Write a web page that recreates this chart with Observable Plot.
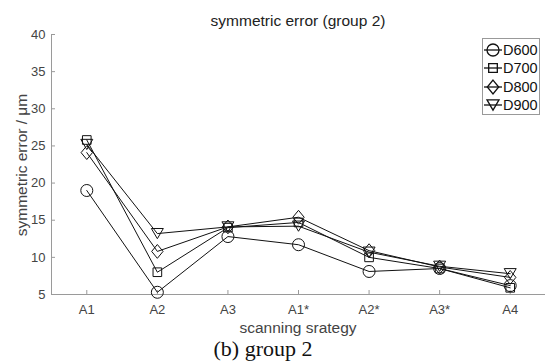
<!DOCTYPE html>
<html>
<head>
<meta charset="utf-8">
<script src="https://cdn.jsdelivr.net/npm/d3@7"></script>
<script src="https://cdn.jsdelivr.net/npm/@observablehq/plot@0.6"></script>
<style>
  html, body { margin: 0; padding: 0; background: #fff; }
  #wrap { position: relative; width: 545px; height: 363px; overflow: hidden; font-family: "Liberation Sans", Arial, sans-serif; }
  .lbl { position: absolute; white-space: nowrap; color: #333; }
  #title { left: 298px; top: 12px; transform: translateX(-50%); font-size: 15.5px; line-height: 18px; color: #222; }
  #xlabel { left: 298px; top: 319px; transform: translateX(-50%); font-size: 15.5px; line-height: 18px; color: #444; }
  #ylabel { left: 22px; top: 165px; transform: translate(-50%, -50%) rotate(-90deg); font-size: 15.5px; line-height: 18px; color: #444; }
  #caption { left: 263px; top: 336px; transform: translateX(-50%); font-family: "Liberation Serif", "Times New Roman", serif; font-size: 22px; line-height: 26px; color: #111; }
  #legend { position: absolute; left: 482px; top: 38px; width: 56px; height: 75px; border: 1px solid #999; background: #fff; font-size: 14.5px; color: #111; }
  .row { position: absolute; left: 0; height: 18px; line-height: 18px; }
  .row svg { position: absolute; left: 0; top: 0; }
  .row span { position: absolute; left: 20px; top: 0; }
</style>
</head>
<body>
<div id="wrap">
  <div id="chart"></div>
  <div class="lbl" id="title">symmetric error (group 2)</div>
  <div class="lbl" id="xlabel">scanning srategy</div>
  <div class="lbl" id="ylabel">symmetric error / μm</div>
  <div class="lbl" id="caption">(b) group 2</div>
  <div id="legend"></div>
</div>
<script>
const categories = ["A1", "A2", "A3", "A1*", "A2*", "A3*", "A4"];
const seriesNames = ["D600", "D700", "D800", "D900"];
const D600 = [19.0, 5.3, 12.8, 11.7, 8.1, 8.5, 6.2];
const D700 = [25.8, 8.0, 14.0, 14.7, 10.0, 8.5, 5.9];
const D800 = [24.1, 10.8, 14.1, 15.4, 10.9, 8.7, 7.3];
const D900 = [25.2, 13.2, 14.1, 14.2, 10.7, 8.8, 7.8];
const yTicks = [5, 10, 15, 20, 25, 30, 35, 40];

const seriesValues = [D600, D700, D800, D900];

// custom marker symbols (MATLAB-like)
function rad(size) { return Math.sqrt(size / Math.PI); }
const symCircle = { draw(c, s) { const r = rad(s); c.moveTo(r, 0); c.arc(0, 0, r, 0, 2 * Math.PI); c.closePath(); } };
const symSquare = { draw(c, s) { const r = rad(s) * 0.72; c.moveTo(-r, -r); c.lineTo(r, -r); c.lineTo(r, r); c.lineTo(-r, r); c.closePath(); } };
const symDiamond = { draw(c, s) { const r = rad(s); const w = r * 0.95, h = r * 1.15; c.moveTo(0, -h); c.lineTo(w, 0); c.lineTo(0, h); c.lineTo(-w, 0); c.closePath(); } };
const symTriDown = { draw(c, s) { const r = rad(s); const w = r, h = r * 0.85; c.moveTo(-w, -h); c.lineTo(w, -h); c.lineTo(0, h); c.closePath(); } };
const symbols = [symCircle, symSquare, symDiamond, symTriDown];

const rows = [];
seriesValues.forEach((vals, si) => {
  vals.forEach((v, i) => rows.push({ series: seriesNames[si], si, idx: i + 1, cat: categories[i], value: v }));
});

const marks = [
  Plot.ruleX([0.5], { stroke: "#9a9a9a", strokeWidth: 1 }),
  Plot.ruleY([5], { stroke: "#9a9a9a", strokeWidth: 1 }),
  Plot.axisY({ ticks: yTicks, tickSize: -4, tickPadding: 10, stroke: "#9a9a9a", fill: "#444", label: null, fontSize: 13 }),
  Plot.axisX({ ticks: categories.map((c, i) => i + 1), tickFormat: i => categories[i - 1], tickSize: -4, tickPadding: 14, stroke: "#9a9a9a", fill: "#444", label: null, fontSize: 13 })
];
seriesNames.forEach((name, si) => {
  const data = rows.filter(d => d.si === si);
  marks.push(Plot.line(data, { x: "idx", y: "value", stroke: "#111", strokeWidth: 1 }));
});
seriesNames.forEach((name, si) => {
  const data = rows.filter(d => d.si === si);
  marks.push(Plot.dot(data, { x: "idx", y: "value", symbol: symbols[si], r: 6, stroke: "#111", fill: "none", strokeWidth: 1 }));
});

const chart = Plot.plot({
  width: 545,
  height: 363,
  marginTop: 34,
  marginBottom: 69,
  marginLeft: 51,
  marginRight: 0,
  x: { type: "linear", domain: [0.5, 7.5] },
  y: { domain: [5, 40] },
  style: { fontFamily: "'Liberation Sans', Arial, sans-serif", fontSize: "13px", background: "transparent" },
  marks
});
document.getElementById("chart").appendChild(chart);

// legend
const legend = document.getElementById("legend");
const sym = d3.symbol();
seriesNames.forEach((name, si) => {
  const row = document.createElement("div");
  row.className = "row";
  row.style.top = (2 + si * 18.3) + "px";
  const path = sym.type(symbols[si]).size(Math.PI * 36)();
  row.innerHTML = `<svg width="20" height="18"><line x1="1" x2="19" y1="9" y2="9" stroke="#111" stroke-width="1.3"/><path d="${path}" transform="translate(10,9)" fill="none" stroke="#111" stroke-width="1.3"/></svg><span>${name}</span>`;
  legend.appendChild(row);
});
</script>
</body>
</html>
